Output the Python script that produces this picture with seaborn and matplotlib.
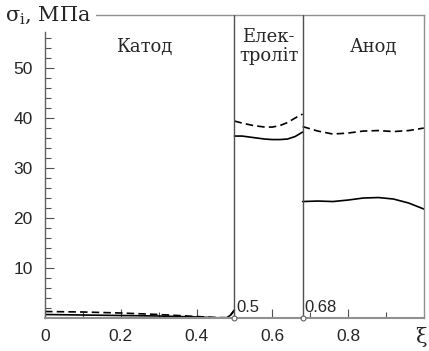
import matplotlib
matplotlib.use('Agg')
import matplotlib.pyplot as plt
import seaborn as sns
import pandas as pd

# Curves (xi, sigma_i in MPa)
cat_x = [0, 0.1, 0.2, 0.3, 0.4, 0.45, 0.48, 0.49, 0.5]
cat_solid = [0.7, 0.6, 0.5, 0.4, 0.2, 0.05, 0.05, 0.6, 1.6]
cat_dash = [1.3, 1.2, 1.0, 0.7, 0.3, 0.1, 0.05, 0.6, 1.6]

el_x = [0.5, 0.52, 0.55, 0.58, 0.6, 0.62, 0.64, 0.66, 0.68]
el_solid = [36.4, 36.4, 36.1, 35.8, 35.7, 35.7, 35.8, 36.3, 37.2]
el_dash = [39.4, 39.0, 38.5, 38.2, 38.2, 38.5, 39.1, 40.0, 40.8]

an_x = [0.68, 0.72, 0.76, 0.8, 0.84, 0.88, 0.92, 0.96, 1.0]
an_solid = [23.3, 23.4, 23.3, 23.6, 24.0, 24.1, 23.8, 23.0, 21.8]
an_dash = [38.3, 37.4, 36.8, 37.0, 37.4, 37.5, 37.3, 37.5, 38.0]

borders = [0.5, 0.68]
zone_names = ['Катод', 'Елек-\nтроліт', 'Анод']
zone_pos = [(0.263, 54.2), (0.59, 54.3), (0.868, 54.2)]

sns.set_style('white')
plt.rcParams['font.family'] = ['Liberation Sans', 'DejaVu Sans']

fig = plt.figure(figsize=(4.29, 3.51), dpi=100)
ax = fig.add_axes([0.105, 0.094, 0.883, 0.863])

segs = [(cat_x, cat_solid, cat_dash), (el_x, el_solid, el_dash), (an_x, an_solid, an_dash)]
for i, (xs, ys, yd) in enumerate(segs):
    df = pd.DataFrame({'x': xs, 's': ys, 'd': yd})
    sns.lineplot(data=df, x='x', y='s', ax=ax, color='black', lw=1.2, sort=False)
    sns.lineplot(data=df, x='x', y='d', ax=ax, color='black', lw=1.2, sort=False,
                 dashes=False, linestyle=(0, (4.5, 2.5)))

for b in borders:
    ax.axvline(b, color='#505050', lw=1.0, zorder=3)
    ax.plot([b], [0], 'o', ms=3.5, mfc='white', mec='#606060', mew=0.8, zorder=5, clip_on=False)
ax.text(0.505, 0.6, '0.5', fontsize=12, va='bottom', ha='left')
ax.text(0.685, 0.6, '0.68', fontsize=12, va='bottom', ha='left')

for name, (px, py) in zip(zone_names, zone_pos):
    ax.text(px, py, name, family='DejaVu Serif', fontsize=13, ha='center', va='center',
            linespacing=1.1)

ax.set_xlim(0, 1)
ax.set_ylim(0, 60.6)
ax.set_xticks([0, 0.2, 0.4, 0.6, 0.8])
ax.set_xticklabels(['0', '0.2', '0.4', '0.6', '0.8'])
ax.set_xticks([0.1, 0.3, 0.5, 0.7, 0.9], minor=True)
ax.set_yticks([10, 20, 30, 40, 50])
ax.set_yticks(range(2, 58, 2), minor=True)
ax.tick_params(axis='both', which='both', direction='in', labelsize=12.5, color='#505050',
               bottom=True, left=True)
ax.tick_params(axis='both', which='major', length=6.5, width=0.8)
ax.tick_params(axis='both', which='minor', length=4, width=0.8)
ax.tick_params(axis='y', which='major', pad=9)
ax.tick_params(axis='x', which='major', pad=8)
ax.set_xlabel('')
ax.set_ylabel('')
for sp in ax.spines.values():
    sp.set_color('#909090')
    sp.set_linewidth(1.0)
ax.spines['left'].set_color('#606060')
ax.spines['left'].set_bounds(0, 57.2)
ax.spines['bottom'].set_linewidth(1.5)

fig.text(0.012, 0.957, r'$\mathregular{\sigma_i}$, МПа', family='DejaVu Serif', fontsize=15,
         va='center', ha='left', bbox=dict(facecolor='white', edgecolor='none', pad=3), zorder=10)
fig.text(0.98, 0.04, 'ξ', family='DejaVu Serif', fontsize=15, ha='center', va='center')

fig.savefig('out.png', dpi=100)
